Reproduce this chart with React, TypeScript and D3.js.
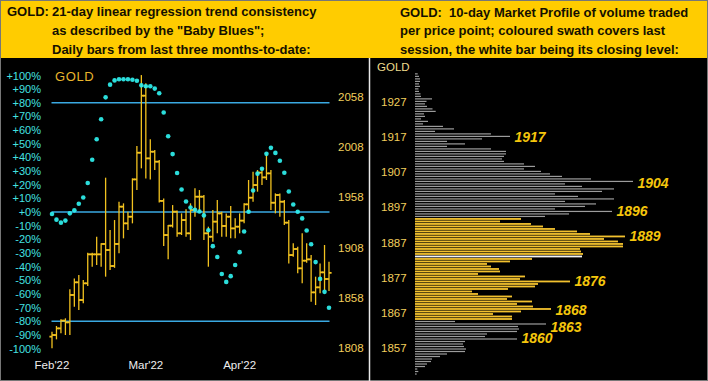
import React from "react";
import * as d3 from "d3";

const W = 708;
const H = 381;

// ---------- header texts ----------
const headerLeftTag = "GOLD:";
const headerLeft = [
  "21-day linear regression trend consistency",
  'as described by the "Baby Blues";',
  "Daily bars from last three months-to-date:",
];
const headerRight = [
  "GOLD:\u00a0 10-day Market Profile of volume traded",
  "per price point; coloured swath covers last",
  "session, the white bar being its closing level:",
];

// ---------- left chart data ----------
const dateLabels = ["Feb'22", "Mar'22", "Apr'22"];
const dateLabelIdx = [0, 21, 42];
const pctTicks = [100, 90, 80, 70, 60, 50, 40, 30, 20, 10, 0, -10, -20, -30, -40, -50, -60, -70, -80, -90, -100];
const pctLines = [80, 0, -80];
const priceTicks = [2058, 2008, 1958, 1908, 1858, 1808];

const opens = [
  1819.6, 1821.2, 1827.8, 1835.5, 1833.8, 1861.0, 1873.6, 1856.0, 1872.6, 1901.4,
  1901.4, 1901.4, 1911.7, 1905.7, 1889.8, 1911.7, 1948.8, 1932.2, 1938.8, 1975.9,
  2002.4, 2059.1, 1996.8, 2003.4, 1993.5, 1954.5, 1920.6, 1929.9, 1943.8, 1922.3,
  1935.5, 1922.3, 1945.5, 1958.7, 1958.7, 1922.3, 1918.9, 1933.9, 1942.1, 1929.6,
  1938.8, 1927.2, 1928.9, 1934.9, 1951.1, 1957.7, 1970.3, 1982.6, 1977.9, 1981.9,
  1952.7, 1960.4, 1953.7, 1932.9, 1900.7, 1906.7, 1887.5, 1895.1, 1896.4, 1863.6,
  1868.6, 1883.5, 1876.9,
];
const highs = [
  1824.5, 1830.2, 1836.8, 1837.8, 1866.6, 1877.5, 1880.9, 1875.9, 1903.0, 1903.0,
  1918.9, 1912.3, 1977.6, 1925.6, 1935.5, 1953.7, 1952.1, 1943.8, 1976.9, 2009.1,
  2079.6, 2071.4, 2015.7, 2005.1, 1995.1, 1957.0, 1930.5, 1950.4, 1945.0, 1942.1,
  1946.1, 1952.1, 1967.0, 1965.3, 1960.4, 1928.9, 1945.5, 1955.4, 1943.8, 1942.1,
  1949.4, 1937.2, 1942.1, 1952.1, 1975.3, 1983.6, 1985.2, 1986.9, 2001.8, 1985.2,
  1962.0, 1962.0, 1955.4, 1935.5, 1912.3, 1909.0, 1922.3, 1912.3, 1900.7, 1879.2,
  1892.4, 1910.7, 1894.0,
];
const lows = [
  1808.0, 1816.9, 1822.9, 1821.2, 1821.2, 1849.4, 1846.1, 1852.7, 1870.0, 1889.1,
  1890.8, 1889.1, 1879.2, 1885.8, 1888.0, 1902.4, 1917.3, 1925.6, 1932.2, 1965.3,
  1986.9, 1976.9, 1975.9, 1985.2, 1953.0, 1909.7, 1896.4, 1928.0, 1918.9, 1920.6,
  1918.9, 1915.6, 1938.8, 1943.8, 1915.6, 1889.1, 1914.0, 1922.3, 1918.9, 1918.9,
  1917.3, 1917.3, 1922.3, 1932.2, 1943.8, 1953.7, 1963.7, 1970.3, 1975.3, 1945.5,
  1942.1, 1938.8, 1930.5, 1892.4, 1899.1, 1882.5, 1872.6, 1893.0, 1854.3, 1851.0,
  1862.6, 1865.9, 1865.0,
];
const closes = [
  1821.2, 1827.8, 1835.5, 1833.8, 1861.0, 1873.6, 1856.0, 1872.6, 1901.4, 1901.4,
  1901.4, 1911.7, 1905.7, 1889.8, 1911.7, 1948.8, 1932.2, 1938.8, 1975.9, 2002.4,
  2059.1, 1996.8, 2003.4, 1993.5, 1954.5, 1920.6, 1929.9, 1943.8, 1922.3, 1935.5,
  1922.3, 1945.5, 1958.7, 1958.7, 1922.3, 1918.9, 1933.9, 1942.1, 1929.6, 1938.8,
  1927.2, 1928.9, 1934.9, 1951.1, 1957.7, 1970.3, 1982.6, 1977.9, 1981.9, 1952.7,
  1960.4, 1953.7, 1932.9, 1900.7, 1906.7, 1887.5, 1895.1, 1896.4, 1863.6, 1868.6,
  1883.5, 1876.9, 1883.0,
];
// "Baby Blues" trend consistency (%)
const babyBlues = [
  -1.5, -5.6, -7.8, -6.3, -1.0, 1.2, 6.0, 10.6, 21.3, 38.3,
  53.3, 67.9, 84.0, 93.3, 96.4, 97.2, 97.2, 97.2, 96.9, 96.2,
  92.8, 92.1, 92.1, 90.4, 87.0, 72.9, 55.5, 42.4, 28.6, 16.5,
  7.7, 3.3, 1.7, 0.4, -2.5, -13.4, -25.0, -33.0, -45.4, -51.2,
  -47.0, -38.8, -29.4, -14.3, 0.2, 15.7, 28.1, 31.7, 42.6, 47.0,
  43.3, 37.5, 28.8, 15.0, 5.5, 0.2, -4.7, -13.6, -23.6, -36.7,
  -49.0, -58.5, -70.1,
];

// ---------- right chart data (market profile) ----------
const profileTicks = [1927, 1917, 1907, 1897, 1887, 1877, 1867, 1857];
const profileTop = 1934.9;
const profileBottom = 1849.7;
const profileVolume = [
  2.7, 4, 5, 5, 4, 5, 3.5, 4, 5.5, 6,
  17, 11.5, 10, 12, 17.5, 20.7, 9, 10, 6, 13,
  8, 28, 39, 20, 76, 95, 67, 32, 50, 32,
  76, 91, 91, 89, 87, 89, 109, 120, 109, 126,
  135, 147, 176, 218, 150, 167, 199, 187, 140, 163,
  199, 150, 181, 170, 140, 197, 154, 130, 106, 85,
  116, 128, 140, 162, 175, 210, 189, 203, 208, 208,
  165, 166, 168, 167, 117, 95, 72, 76, 84, 85,
  63, 110, 105, 155, 123, 120, 93, 57, 63, 97,
  92, 117, 102, 118, 136, 106, 78, 97, 97, 40,
  131, 103, 104, 102, 72, 70, 102, 50, 48, 49,
  51, 50, 32, 25, 17, 16, 12, 10, 2.3, 3.3,
  1.7,
];
const pointerLevels = [1917, 1904, 1896, 1889, 1876, 1868, 1863, 1860];

const FONT = "'Liberation Sans', Arial, Helvetica, sans-serif";

export default function App() {
  const n = closes.length;
  // left panel scales
  const x = d3.scaleLinear().domain([0, n - 1]).range([52, 329]);
  const pctY = d3.scaleLinear().domain([-100, 100]).range([348.5, 75.5]);
  const priceY = d3.scaleLinear().domain([1808, 2058]).range([348.3, 96.8]);

  // right panel scales
  const profY = d3.scaleLinear().domain([1857, 1927]).range([348.3, 101.7]);
  const barIdx = d3
    .scaleLinear()
    .domain([0, profileVolume.length - 1])
    .range([profY(profileTop), profY(profileBottom)]);
  const barX0 = 415;
  const barLen = d3.scaleLinear().domain([0, 100]).range([0, 100]);

  const last = n - 1;
  const sessHigh = highs[last];
  const sessLow = lows[last];
  const sessClose = closes[last];
  const barPrices = profileVolume.map((_, i) => profY.invert(barIdx(i)));
  let whiteIdx = 0;
  barPrices.forEach((p, i) => {
    if (Math.abs(p - sessClose) < Math.abs(barPrices[whiteIdx] - sessClose)) whiteIdx = i;
  });

  const yellow = "#f2c12e";
  const ohlcColor = "#f2c21f";
  const tick = 2.6;

  return (
    <svg
      width={W}
      height={H}
      viewBox={`0 0 ${W} ${H}`}
      style={{ position: "absolute", left: 0, top: 0, display: "block" }}
      fontFamily={FONT}
    >
      <rect x={0} y={0} width={W} height={H} fill="#000" />
      {/* header */}
      <rect x={0} y={0} width={W} height={58} fill="#ffcc00" />
      <g fontSize={13} fontWeight="bold" fill="#141000">
        <text x={7} y={16}>{headerLeftTag}</text>
        {headerLeft.map((t, i) => (
          <text key={t} x={52} y={16 + i * 18.8}>{t}</text>
        ))}
        {headerRight.map((t, i) => (
          <text key={t} x={400} y={17 + i * 18.3}>{t}</text>
        ))}
      </g>
      {/* borders */}
      <rect x={0.5} y={0.5} width={W - 1} height={H - 1} fill="none" stroke="#777" strokeWidth={1} />
      <line x1={369.5} x2={369.5} y1={58} y2={H} stroke="#e8e8e8" strokeWidth={1.5} />

      {/* ---------- LEFT PANEL ---------- */}
      <text x={55} y={81} fontSize={13} fill="#e9b52c" letterSpacing={0.6}>GOLD</text>
      <g fontSize={11} fill="#44e2e2" textAnchor="end">
        {pctTicks.map((v) => (
          <text key={v} x={41} y={pctY(v) + 4}>{(v >= 0 ? "+" : "") + v + "%"}</text>
        ))}
      </g>
      <g fontSize={11.5} fill="#f1cf5c">
        {priceTicks.map((v) => (
          <text key={v} x={338} y={priceY(v) + 4}>{v}</text>
        ))}
      </g>
      <g fontSize={11.5} fill="#eeeeee" textAnchor="middle">
        {dateLabels.map((d, i) => (
          <text key={d} x={x(dateLabelIdx[i])} y={368.5}>{d}</text>
        ))}
      </g>
      {pctLines.map((v) => (
        <line key={v} x1={51.5} x2={329.5} y1={pctY(v)} y2={pctY(v)} stroke="#3aa9e2" strokeWidth={1.4} />
      ))}
      <g stroke={ohlcColor} strokeWidth={1.3}>
        {closes.map((c, i) => (
          <g key={i}>
            <line x1={x(i)} x2={x(i)} y1={priceY(highs[i])} y2={priceY(lows[i])} />
            <line x1={x(i) - tick} x2={x(i)} y1={priceY(opens[i])} y2={priceY(opens[i])} strokeWidth={1.8} />
            <line x1={x(i)} x2={x(i) + tick} y1={priceY(c)} y2={priceY(c)} strokeWidth={1.8} />
          </g>
        ))}
      </g>
      <g fill="#2ff0ee" fillOpacity={0.92}>
        {babyBlues.map((v, i) => (
          <circle key={i} cx={x(i)} cy={pctY(v)} r={2.3} />
        ))}
      </g>

      {/* ---------- RIGHT PANEL ---------- */}
      <text x={377} y={71} fontSize={11.5} fill="#eedb8c">GOLD</text>
      <g fontSize={11.5} fill="#f1cf5c">
        {profileTicks.map((v) => (
          <text key={v} x={381} y={profY(v) + 4}>{v}</text>
        ))}
      </g>
      <g>
        {profileVolume.map((v, i) => {
          const p = barPrices[i];
          const inSess = p >= sessLow && p <= sessHigh;
          const isWhite = i === whiteIdx;
          const fill = isWhite ? "#f4f4f4" : inSess ? yellow : "#9c9c9c";
          const h = inSess || isWhite ? 1.8 : 1.2;
          return (
            <rect key={i} x={barX0} y={barIdx(i) - h / 2} width={barLen(v)} height={h} fill={fill} />
          );
        })}
      </g>
      <g fontSize={14} fontWeight="bold" fontStyle="italic" fill="#f5c60c">
        {pointerLevels.map((lv) => {
          const yy = profY(lv);
          let maxLen = 0;
          profileVolume.forEach((v, i) => {
            if (Math.abs(barIdx(i) - yy) <= 3.2) maxLen = Math.max(maxLen, v);
          });
          return (
            <text key={lv} x={barX0 + barLen(maxLen) + 4.5} y={yy + 5}>{lv}</text>
          );
        })}
      </g>
    </svg>
  );
}
